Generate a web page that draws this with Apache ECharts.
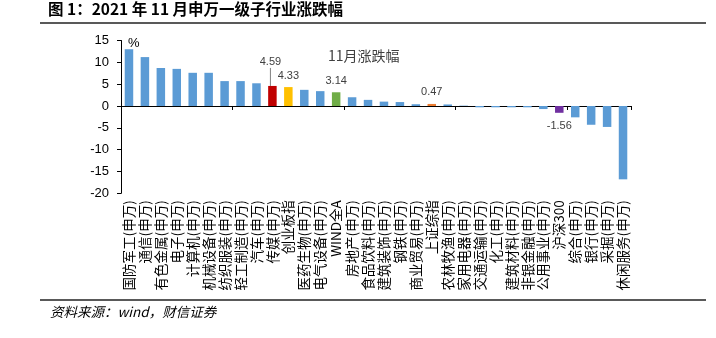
<!DOCTYPE html>
<html><head><meta charset="utf-8">
<script src="https://cdn.jsdelivr.net/npm/echarts@6/dist/echarts.min.js"></script>
<style>html,body{margin:0;padding:0;background:#fff;}#c{width:716px;height:338px;}</style>
</head><body><div id="c"></div>
<script>
const categories = ['国防军工(申万)','通信(申万)','有色金属(申万)','电子(申万)','计算机(申万)','机械设备(申万)','纺织服装(申万)','轻工制造(申万)','汽车(申万)','传媒(申万)','创业板指','医药生物(申万)','电气设备(申万)','WIND全A','房地产(申万)','食品饮料(申万)','建筑装饰(申万)','钢铁(申万)','商业贸易(申万)','上证综指','农林牧渔(申万)','家用电器(申万)','交通运输(申万)','化工(申万)','建筑材料(申万)','非银金融(申万)','公用事业(申万)','沪深300','综合(申万)','银行(申万)','采掘(申万)','休闲服务(申万)'];
const values = [13.0,11.2,8.7,8.5,7.6,7.6,5.7,5.7,5.2,4.59,4.33,3.7,3.4,3.14,2.0,1.4,1.0,0.9,0.4,0.47,0.35,0.08,-0.3,-0.3,-0.3,-0.3,-0.7,-1.56,-2.6,-4.3,-4.8,-16.8];
const highlight = {'传媒(申万)':'#C00000','创业板指':'#FFC000','WIND全A':'#70AD47','上证综指':'#ED7D31','沪深300':'#7030A0'};
const labeled = ['传媒(申万)','创业板指','WIND全A','上证综指','沪深300'];
const yTicks = [-20,-15,-10,-5,0,5,10,15];
const seriesName = '11月涨跌幅';

const chart = echarts.init(document.getElementById('c'));
const data = values.map((v,i)=>{
  const name = categories[i];
  const item = {value:v, itemStyle:{color: highlight[name] || '#5B9BD5'}};
  if (labeled.includes(name)) {
    item.label = {show:true, position: v<0?'bottom':'top', distance: v<0?8:6, formatter: v.toFixed(2)};
  }
  if (name === '传媒(申万)') {
    item.labelLine = {show:true, lineStyle:{color:'#808080',width:1}};
  }
  return item;
});
chart.setOption({
  animation:false,
  textStyle:{fontFamily:'"Liberation Sans","Noto Sans CJK SC",sans-serif'},
  grid:{left:121,right:85,top:40.5,bottom:144.7},
  legend:{data:[seriesName],icon:'none',left:318,top:44,itemWidth:0,itemGap:0,
    textStyle:{fontSize:14,color:'#404040',fontFamily:'"Noto Sans CJK SC",sans-serif'}},
  xAxis:[{
    type:'category',data:categories,position:'bottom',
    axisLine:{onZero:true,lineStyle:{color:'#000',width:1}},
    axisTick:{show:true,length:4,lineStyle:{color:'#000'}},
    axisLabel:{show:false}
  },{
    type:'category',data:categories,position:'bottom',
    axisLine:{show:false},axisTick:{show:false},
    axisLabel:{interval:0,rotate:90,margin:7,fontSize:13.5,color:'#000',
      fontFamily:'"Noto Sans CJK SC",sans-serif'}
  }],
  yAxis:{type:'value',min:yTicks[0],max:yTicks[yTicks.length-1],interval:5,
    splitLine:{show:false},
    axisLine:{show:true,lineStyle:{color:'#000'}},
    axisTick:{show:true,length:4,lineStyle:{color:'#000'}},
    axisLabel:{fontSize:13,color:'#000',margin:12}},
  series:[{
    name:seriesName,type:'bar',data:data,barWidth:8.5,xAxisIndex:0,
    label:{show:false,fontSize:11,color:'#404040'},
    labelLayout:function(p){ return p.dataIndex===9 ? {dy:-12,dx:-2} : {}; }
  }],
  graphic:[
    {type:'text',left:48,top:1,style:{text:'图 1：2021 年 11 月申万一级子行业涨跌幅',font:'bold 15.5px "Noto Sans CJK SC"',fill:'#000'}},
    {type:'line',shape:{x1:40,y1:23,x2:706,y2:23},style:{stroke:'#222',lineWidth:1.5}},
    {type:'line',shape:{x1:40,y1:300,x2:706,y2:300},style:{stroke:'#222',lineWidth:1.5}},
    {type:'text',left:50,top:305,style:{text:'资料来源：wind，财信证券',font:'italic 13.5px "Noto Sans CJK SC"',fill:'#000'}},
    {type:'text',left:128,top:37,style:{text:'%',font:'13px "Liberation Sans"',fill:'#000'}}
  ]
});
</script></body></html>
